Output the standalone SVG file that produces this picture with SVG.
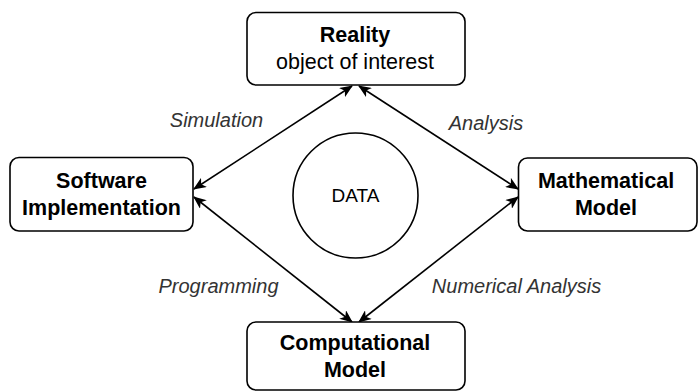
<svg xmlns="http://www.w3.org/2000/svg" width="698" height="392" viewBox="0 0 698 392">
<style>
.box{fill:#fff;stroke:#000;stroke-width:1.6}
.t{font-family:"Liberation Sans",Arial,sans-serif;font-size:21.5px;fill:#000;text-anchor:middle}
.b{font-weight:bold}
.lbl{font-family:"Liberation Sans",Arial,sans-serif;font-size:20px;font-style:italic;fill:#333;text-anchor:middle}
.edge{fill:none;stroke:#000;stroke-width:1.6}
</style>
<defs>
<marker id="arr" viewBox="0 0 13 11" refX="12" refY="5.5" markerWidth="13" markerHeight="11" markerUnits="userSpaceOnUse" orient="auto-start-reverse">
<path d="M0,0 L13,5.5 L0,11 L3.5,5.5 Z" fill="#000"/>
</marker>
</defs>
<g id="connectors">
<line class="edge" x1="352" y1="86" x2="194" y2="189" marker-start="url(#arr)" marker-end="url(#arr)"/>
<line class="edge" x1="359" y1="86" x2="518" y2="189" marker-start="url(#arr)" marker-end="url(#arr)"/>
<line class="edge" x1="194" y1="197" x2="352" y2="322" marker-start="url(#arr)" marker-end="url(#arr)"/>
<line class="edge" x1="518" y1="197" x2="359" y2="322" marker-start="url(#arr)" marker-end="url(#arr)"/>
</g>
<g id="labels">
<text class="lbl" x="216.5" y="126.5">Simulation</text>
<text class="lbl" x="486" y="130">Analysis</text>
<text class="lbl" x="218.5" y="293">Programming</text>
<text class="lbl" x="516.5" y="293">Numerical Analysis</text>
</g>
<g id="reality">
<rect class="box" x="247" y="12.5" width="218" height="72.5" rx="9"/>
<text class="t b" x="355" y="41.5">Reality</text>
<text class="t" x="355" y="68.5">object of interest</text>
</g>
<g id="software">
<rect class="box" x="10" y="157.5" width="183" height="73.5" rx="9"/>
<text class="t b" x="101.5" y="187.5">Software</text>
<text class="t b" x="101.5" y="215">Implementation</text>
</g>
<g id="mathematical">
<rect class="box" x="518.5" y="158" width="178.5" height="73" rx="9"/>
<text class="t b" x="606" y="187.5">Mathematical</text>
<text class="t b" x="606" y="215">Model</text>
</g>
<g id="computational">
<rect class="box" x="247" y="322" width="218" height="68" rx="9"/>
<text class="t b" x="355" y="350">Computational</text>
<text class="t b" x="355" y="377">Model</text>
</g>
<g id="data">
<circle class="box" cx="355.5" cy="195.5" r="62.5"/>
<text class="t" x="355.5" y="201.5" style="font-size:19px">DATA</text>
</g>
</svg>
